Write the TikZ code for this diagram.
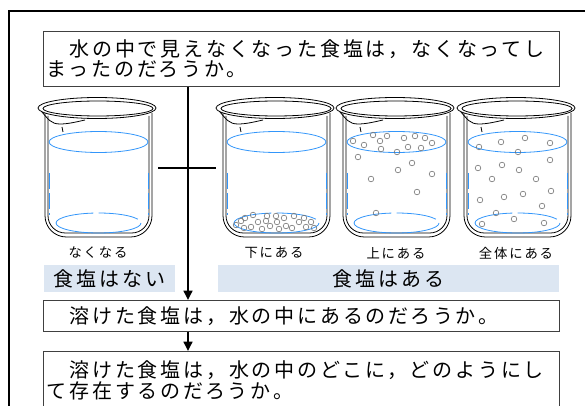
\documentclass[tikz,border=0pt]{standalone}
\usepackage{fontspec}
\newfontfamily\jp[LetterSpace=14]{Noto Sans CJK JP}
\usetikzlibrary{arrows.meta}
\definecolor{waterblue}{RGB}{51,150,250}
\definecolor{tagfill}{RGB}{220,230,242}

\newcommand{\beaker}[1]{%
  \begin{scope}[shift={(#1,97)}]
    \draw[glass] (59,11) ellipse [x radius=59, y radius=10.5];
    \draw[glass] (60,11.5) ellipse [x radius=55, y radius=7.5];
    \draw[glass] (4,15) .. controls (10,22) and (13,27) .. (22,27) .. controls (30,27) and (38,25) .. (47,23);
    \draw[glass] (24,30) -- (25,35);
    \draw[glass, rounded corners=16] (7,16) -- (7,140) -- (114,140) -- (114,16);
    \draw[glass, rounded corners=13] (10,19) -- (10,136) -- (111,136) -- (111,19);
    \draw[water] (60.5,45) ellipse [x radius=49.5, y radius=10.5];
    \draw[water] (103,126) arc [start angle=0, end angle=180, x radius=42.5, y radius=10];
    \draw[water, dash pattern=on 30pt off 4pt] (18,126) arc [start angle=180, end angle=360, x radius=42.5, y radius=10];
    \draw[water, dash pattern=on 12pt off 3pt] (11,76) -- (11,118);
    \draw[water, dash pattern=on 12pt off 3pt] (110,76) -- (110,118);
  \end{scope}}

\begin{document}
\begin{tikzpicture}[x=0.75pt, y=-0.75pt,
    glass/.style={line width=0.6pt},
    water/.style={waterblue, line width=0.6pt},
    salt/.style={draw=black!55, line width=0.45pt},
    qbox/.style={draw=black!75, line width=0.7pt, anchor=north west, align=left,
      text width=382pt, inner xsep=2.5pt, inner ysep=0pt,
      font=\jp\fontsize{15}{15.4}\selectfont},
    tag/.style={fill=tagfill, inner sep=0pt, font=\jp\fontsize{15}{18}\selectfont},
    note/.style={font=\jp\fontsize{10}{12}\selectfont},
    flow/.style={line width=1.9pt, -{Triangle[length=7pt,width=6.5pt]}}]
    \clip (0,0) rectangle (585,406);
    \draw[line width=1.2pt] (9,420) -- (9,11) -- (600,11);

    \node[qbox, minimum height=41.25pt] (q1) at (43,31) {　水の中で見えなくなった食塩は，なくなってし\\まったのだろうか。};
    \node[qbox, minimum height=23.25pt] (q2) at (43,300) {　溶けた食塩は，水の中にあるのだろうか。};
    \node[qbox, minimum height=43.5pt] (q3) at (43,351) {　溶けた食塩は，水の中のどこに，どのようにし\\て存在するのだろうか。};

    \foreach \x in {38,216,336,457}
        \beaker{\x};

    % salt on the bottom
    \foreach \px/\py in {236/225,241/221,245/218,253/215,244/228,251/227,258/222,262/229,267/216,270/226,276/216,277/222,279/229,284/218,286/226,292/228,294/216,299/222,304/218,306/227,311/222,314/228,266/221}
        \draw[salt] (\px,\py) circle (2.8);
    % salt near the top
    \foreach \px/\py in {353/141,364/145,373/135,380/141,381/149,387/136,397/152,404/138,408/147,415/136,421/148,425/138,432/143,358/157,412/163,398/170,432/174,371/179,417/192,376/213}
        \draw[salt] (\px,\py) circle (2.8);
    % salt all through
    \foreach \px/\py in {479/147,501/142,525/138,550/143,518/152,550/160,478/168,502/165,519/170,492/179,536/179,480/200,504/197,523/194,551/191,542/206,496/213,514/219,544/223,482/224}
        \draw[salt] (\px,\py) circle (2.8);

    \node[note] (lnone) at (98,253) {なくなる};
    \node[note] (lbottom) at (274,253) {下にある};
    \node[note] (ltop) at (396,253) {上にある};
    \node[note] (lall) at (516,253) {全体にある};

    \node[tag, minimum width=98.25pt, minimum height=20.25pt] (nosalt) at (109.5,278.5) {食塩はない};
    \node[tag, minimum width=255.75pt, minimum height=20.25pt] (salt) at (388.5,278.5) {食塩はある};

    \coordinate (spine) at (188,0);
    \coordinate (barL) at (158,168);
    \coordinate (barR) at (216,168);
    \draw[line width=1.9pt] (barL) -- (barR);
    \draw[flow] (q1.south -| spine) -- (q2.north -| spine);
    \draw[flow] (q2.south -| spine) -- (q3.north -| spine);
\end{tikzpicture}
\end{document}
